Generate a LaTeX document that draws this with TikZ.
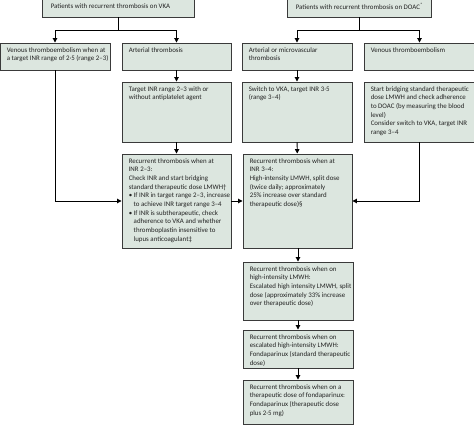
\documentclass[tikz,border=0pt]{standalone}
\usepackage{fontspec}
\setmainfont{Carlito}
\usetikzlibrary{arrows.meta,fit}
\definecolor{boxfill}{HTML}{DCE6DF}
\definecolor{boxline}{HTML}{3A3A3A}
\definecolor{txtcol}{HTML}{222222}
\begin{document}
\begin{tikzpicture}[x=1pt,y=-1pt,
  box/.style={draw=boxline,fill=boxfill,line width=0.9pt,inner sep=0pt,rectangle},
  txt/.style={inner sep=0pt,align=left,anchor=north west,text=txtcol,font=\fontsize{6.9}{8.7}\selectfont},
  conn/.style={draw=black,line width=0.9pt},
  arr/.style={conn,-{Triangle[length=4.5pt,width=4.5pt]}}]
\useasboundingbox (0,0) rectangle (474,425);
\newcommand\bxx[6]{%
  \node[box,fit={(#2,#3) (#4,#5)}] (#1) {};
  \node[txt] (#1-t) at ([shift={(7,4.5)}]#1.north west) {#6};}
% boxes
\node[box,fit={(42,-3) (194,17)}] (vka) {};
\node[txt] (vka-t) at ([shift={(9,6.5)}]vka.north west) {Patients with recurrent thrombosis on VKA};
\node[box,fit={(287,-3) (431,17)}] (doac) {};
\node[txt] (doac-t) at ([shift={(9,6.5)}]doac.north west) {Patients with recurrent thrombosis on DOAC\textsuperscript{*}};
\bxx{ven1}{0}{43}{110}{70}{Venous thromboembolism when at\\a target INR range of 2·5 (range 2–3)}
\bxx{art1}{122}{43}{231}{70}{Arterial thrombosis}
\bxx{tgt}{122}{82}{231}{142}{Target INR range 2–3 with or\\without antiplatelet agent}
\bxx{rec1}{122}{154}{231}{248}{Recurrent thrombosis when at\\INR 2–3:\\Check INR and start bridging\\standard therapeutic dose LMWH†\\• If INR in target range 2–3, increase\\\hphantom{• }to achieve INR target range 3–4\\• If INR is subtherapeutic, check\\\hphantom{• }adherence to VKA and whether\\\hphantom{• }thromboplastin insensitive to\\\hphantom{• }lupus anticoagulant‡}
\bxx{art2}{242}{43}{352}{70}{Arterial or microvascular\\thrombosis}
\bxx{ven2}{364}{43}{476}{70}{Venous thromboembolism}
\bxx{sw}{242}{82}{352}{142}{Switch to VKA, target INR 3·5\\(range 3–4)}
\bxx{brg}{364}{82}{476}{142}{Start bridging standard therapeutic\\dose LMWH and check adherence\\to DOAC (by measuring the blood\\level)\\Consider switch to VKA, target INR\\range 3–4}
\bxx{rec2}{243}{154}{352}{248}{Recurrent thrombosis when at\\INR 3–4:\\High-intensity LMWH, split dose\\(twice daily; approximately\\25\% increase over standard\\therapeutic dose)§}
\bxx{hi}{243}{262}{353}{320}{Recurrent thrombosis when on\\high-intensity LMWH:\\Escalated high intensity LMWH, split\\dose (approximately 33\% increase\\over therapeutic dose)}
\bxx{esc}{243}{330}{353}{368}{Recurrent thrombosis when on\\escalated high-intensity LMWH:\\Fondaparinux (standard therapeutic\\dose)}
\bxx{fon}{243}{380}{353}{424}{Recurrent thrombosis when on a\\therapeutic dose of fondaparinux:\\Fondaparinux (therapeutic dose\\plus 2·5 mg)}
% connectors
\coordinate (j1) at ([yshift=-13pt]vka.south);
\draw[conn] (vka.south) -- (j1);
\draw[arr] (j1) -| (ven1.north);
\draw[arr] (j1) -| (art1.north);
\coordinate (j2) at ([yshift=-13pt]doac.south);
\draw[conn] (doac.south) -- (j2);
\draw[arr] (j2) -| (art2.north);
\draw[arr] (j2) -| ([xshift=-0.5pt]ven2.north);
\draw[arr] (art1) -- (tgt);
\draw[arr] (tgt) -- (rec1);
\draw[arr] (ven1.south) |- (rec1.west);
\draw[arr] (rec1.east) -- (rec2.west);
\draw[arr] (art2) -- (sw);
\draw[arr] (sw) -- (rec2);
\draw[arr] ([xshift=-0.5pt]brg.south) |- (rec2.east);
\draw[arr] (rec2.south -| hi.north) -- (hi.north);
\draw[arr] (hi) -- (esc);
\draw[arr] (esc) -- (fon);
\end{tikzpicture}
\end{document}
